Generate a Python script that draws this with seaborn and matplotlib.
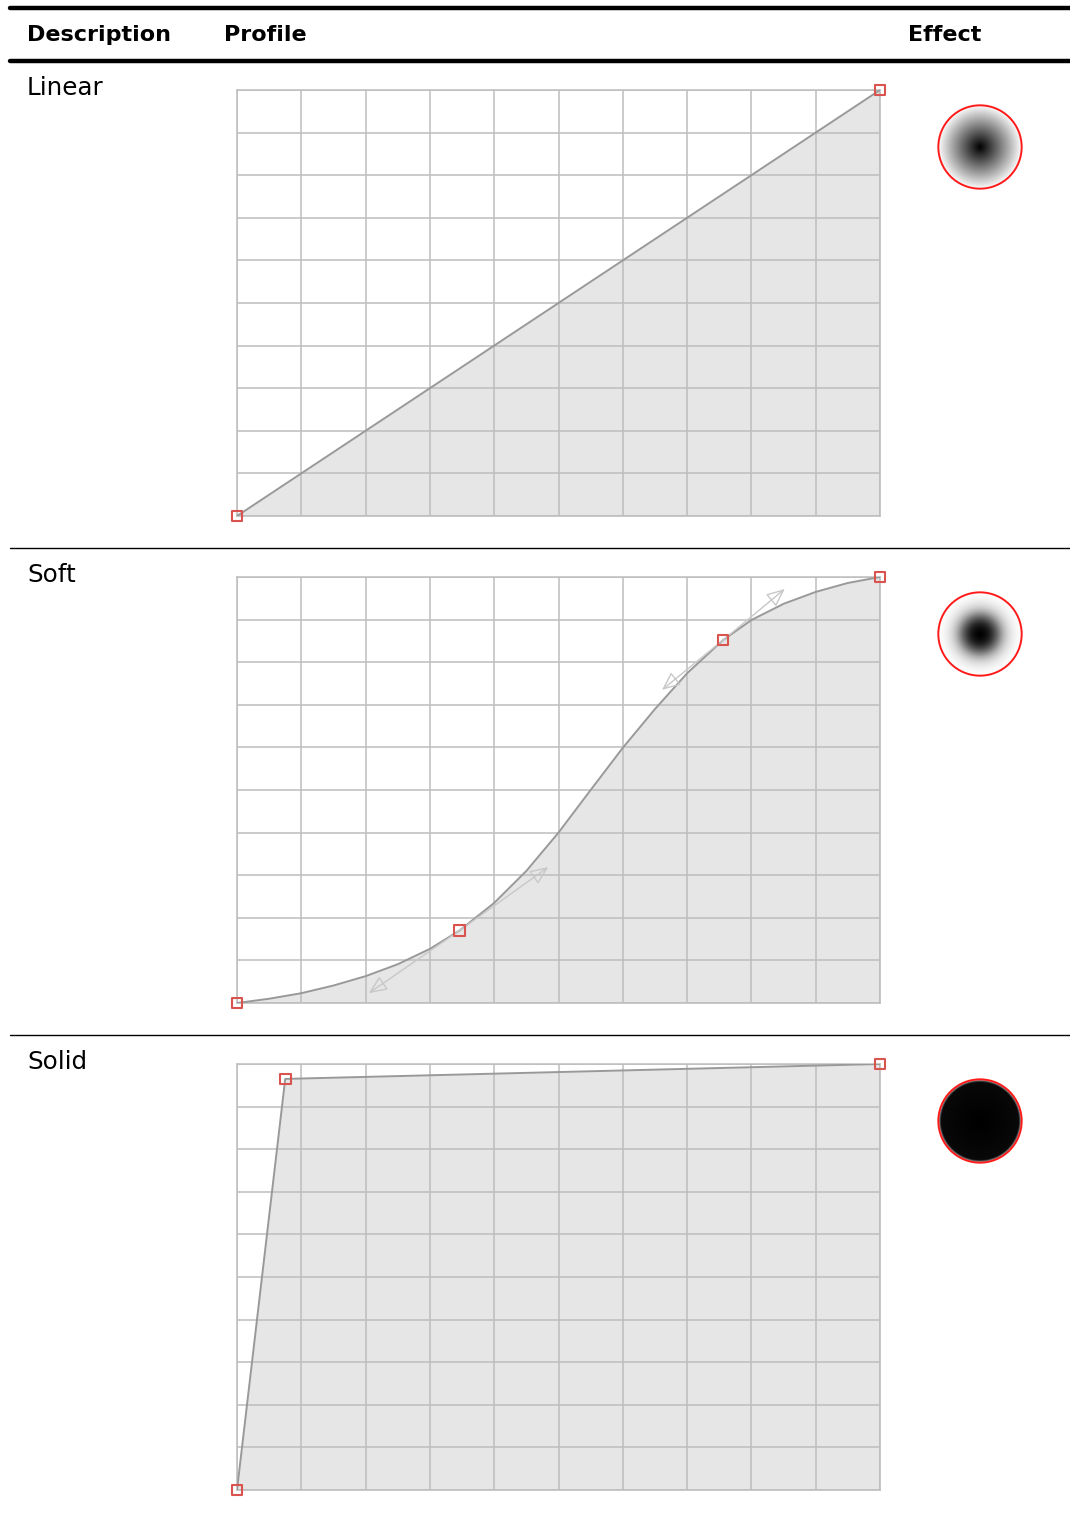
import matplotlib
matplotlib.use("Agg")
import matplotlib.pyplot as plt
import seaborn as sns
import numpy as np
from matplotlib.lines import Line2D
from matplotlib.patches import Circle

# Table text
headers = ["Description", "Profile", "Effect"]
row_names = ["Linear", "Soft", "Solid"]

# Profile curves (x = position, y = strength)
linear_x = [0.0, 1.0]
linear_y = [0.0, 1.0]

soft_x = [0.0, 0.05, 0.1, 0.15, 0.2, 0.25, 0.3, 0.346, 0.4, 0.45, 0.5, 0.55,
          0.6, 0.65, 0.7, 0.756, 0.8, 0.85, 0.9, 0.95, 1.0]
soft_y = [0.0, 0.010, 0.023, 0.041, 0.063, 0.091, 0.127, 0.17, 0.235, 0.31,
          0.40, 0.50, 0.599, 0.69, 0.774, 0.852, 0.899, 0.937, 0.965, 0.986, 1.0]

solid_x = [0.0, 0.075, 1.0]
solid_y = [0.0, 0.965, 1.0]

# Control points (red squares)
linear_nodes_x = [0.0, 1.0]
linear_nodes_y = [0.0, 1.0]
soft_nodes_x = [0.0, 0.346, 0.756, 1.0]
soft_nodes_y = [0.0, 0.17, 0.852, 1.0]
solid_nodes_x = [0.0, 0.075, 1.0]
solid_nodes_y = [0.0, 0.965, 1.0]

# Bezier handles of the soft profile: node -> arrow tip
soft_handle_from_x = [0.346, 0.346, 0.756, 0.756]
soft_handle_from_y = [0.17, 0.17, 0.852, 0.852]
soft_handle_to_x = [0.205, 0.484, 0.661, 0.852]
soft_handle_to_y = [0.023, 0.319, 0.735, 0.972]

W, H = 1070, 1517


def fx(x):
    return x / W


def fy(y):
    return 1 - y / H


sns.set_style("white")
plt.rcParams["font.family"] = ["DejaVu Sans"]

fig = plt.figure(figsize=(W / 100, H / 100), dpi=100)

# Rules of the table
for y, lw in [(8, 3.2), (61, 3.2), (548, 1.0), (1035, 1.0)]:
    fig.add_artist(Line2D([fx(10), fx(1070)], [fy(y), fy(y)],
                          transform=fig.transFigure, color="black", lw=lw))

# Header
for label, x in zip(headers, [27, 224, 908]):
    fig.text(fx(x), fy(41), label, fontsize=16, fontweight="bold",
             color="black", va="baseline", ha="left")

rows = [
    (linear_x, linear_y, linear_nodes_x, linear_nodes_y, 90),
    (soft_x, soft_y, soft_nodes_x, soft_nodes_y, 577),
    (solid_x, solid_y, solid_nodes_x, solid_nodes_y, 1064),
]

grid_col = "#bdbdbd"
for i, (cx, cy, nx, ny, top) in enumerate(rows):
    # Row name
    fig.text(fx(27), fy(top + 5), row_names[i], fontsize=17.7,
             color="black", va="baseline", ha="left")

    # Profile chart
    ax = fig.add_axes([fx(237), fy(top + 426), 643 / W, 426 / H])
    ax.fill_between(cx, cy, 0, color="#e6e6e6", lw=0, zorder=1)
    sns.lineplot(x=cx, y=cy, ax=ax, color="#999999", lw=1.4,
                 estimator=None, sort=False, zorder=3)
    if i == 1:
        for x0, y0, x1, y1 in zip(soft_handle_from_x, soft_handle_from_y,
                                  soft_handle_to_x, soft_handle_to_y):
            ax.annotate("", xy=(x1, y1), xytext=(x0, y0),
                        arrowprops=dict(arrowstyle="-|>,head_length=0.8,head_width=0.35",
                                        fc="none", ec="#c8c8c8", lw=1.0,
                                        shrinkA=0, shrinkB=0, mutation_scale=14),
                        zorder=3)
    sns.scatterplot(x=nx, y=ny, ax=ax, marker="s", s=60, color="none",
                    edgecolor="#d9534f", linewidth=1.5, zorder=5, clip_on=False)
    ax.set_xlim(0, 1)
    ax.set_ylim(0, 1)
    ax.set_xticks(np.linspace(0, 1, 11))
    ax.set_yticks(np.linspace(0, 1, 11))
    ax.tick_params(length=0, labelleft=False, labelbottom=False)
    ax.grid(True, color=grid_col, lw=1.1)
    ax.set_axisbelow(False)
    for sp in ax.spines.values():
        sp.set_color(grid_col)
        sp.set_linewidth(1.1)
    ax.set(xlabel=None, ylabel=None)

    # Effect: radial brush made from the profile
    cyc = top + 57
    r_px = 44
    bx = fig.add_axes([fx(980 - r_px), fy(cyc + r_px), 2 * r_px / W, 2 * r_px / H])
    g = np.linspace(-1.04, 1.04, 240)
    gx, gy = np.meshgrid(g, g)
    rr = np.sqrt(gx ** 2 + gy ** 2)
    dark = np.interp(1 - np.clip(rr, 0, 1), cx, cy)
    im = bx.imshow(1 - dark, cmap="gray", vmin=0, vmax=1,
                   extent=[-1.04, 1.04, -1.04, 1.04], interpolation="bilinear")
    clip = Circle((0, 0), 0.985, transform=bx.transData)
    im.set_clip_path(clip)
    bx.add_patch(Circle((0, 0), 0.985, fc="none", ec="#ff1a1a", lw=1.4))
    bx.set_xlim(-1.04, 1.04)
    bx.set_ylim(-1.04, 1.04)
    bx.axis("off")

fig.savefig("out.png", dpi=100)
